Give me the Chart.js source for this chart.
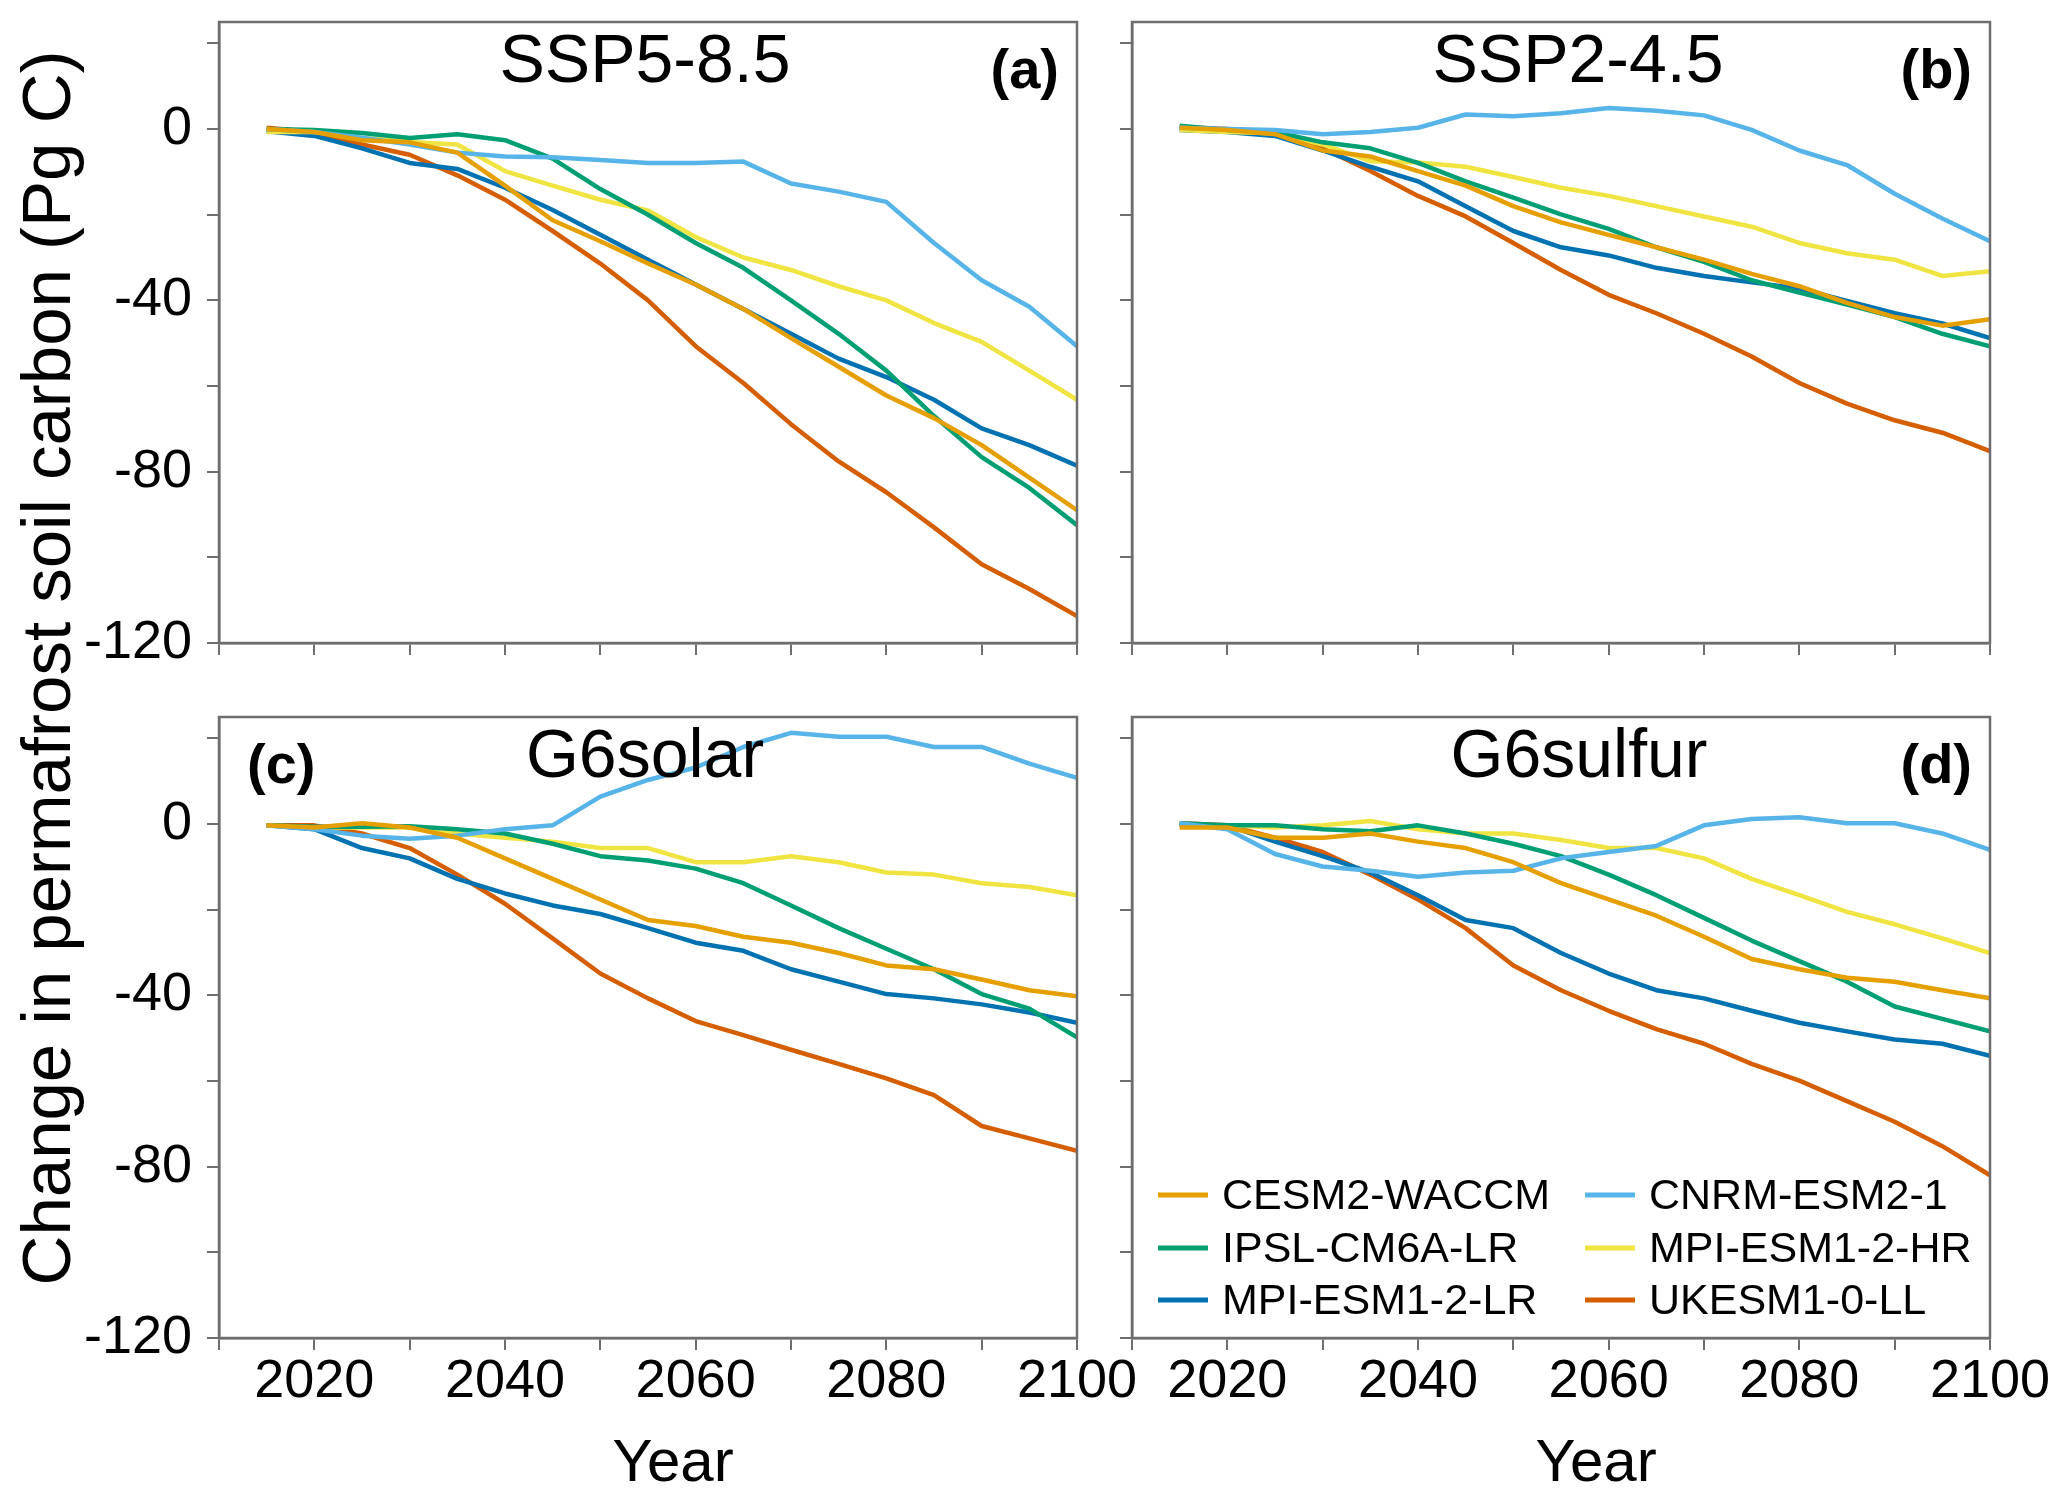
<!DOCTYPE html>
<html>
<head>
<meta charset="utf-8">
<title>Change in permafrost soil carbon</title>
<script src="https://cdn.jsdelivr.net/npm/chart.js@4/dist/chart.umd.min.js"></script>
<style>
  html, body { margin: 0; padding: 0; background: #fff; }
  body { width: 2067px; height: 1496px; position: relative; overflow: hidden; }
  canvas { position: absolute; }
  #ytitle {
    position: absolute; left: 46px; top: 668px;
    transform: translate(-50%, -50%) rotate(-90deg);
    font: 69px "Liberation Sans", Arial, sans-serif;
    white-space: nowrap; color: #000;
  }
</style>
</head>
<body>
<div id="ytitle">Change in permafrost soil carbon (Pg C)</div>
<canvas id="panelA" width="1150" height="720" style="left:0;top:0"></canvas>
<canvas id="panelB" width="967" height="720" style="left:1100px;top:0"></canvas>
<canvas id="panelC" width="1150" height="796" style="left:0;top:700px"></canvas>
<canvas id="panelD" width="967" height="796" style="left:1100px;top:700px"></canvas>
<script>
// Valeurs, tous les 5 ans (Pg C, écart à 2015)
const years = [2015, 2020, 2025, 2030, 2035, 2040, 2045, 2050, 2055, 2060,
  2065, 2070, 2075, 2080, 2085, 2090, 2095, 2100];

const models = ['CESM2-WACCM', 'CNRM-ESM2-1', 'IPSL-CM6A-LR',
  'MPI-ESM1-2-HR', 'MPI-ESM1-2-LR', 'UKESM1-0-LL'];
const modelColors = ['#E69F00', '#56B4E9', '#009E73', '#F0E442', '#0072B2', '#D55E00'];

const scenarios = ['SSP5-8.5', 'SSP2-4.5', 'G6solar', 'G6sulfur'];
const panelLetters = ['(a)', '(b)', '(c)', '(d)'];
const yLabelValues = [-120, -80, -40, 0];
const xLabelYears = [2020, 2040, 2060, 2080, 2100];
const xTitle = 'Year';

// une ligne par modèle, même ordre que `models`
const ssp585 = [
  [0, -0.7, -2.6, -3.1, -5.5, -13.2, -21.3, -26.2, -31.4, -36.3, -42, -48.8, -55.5, -62.2, -67.5, -73.8, -81.4, -89],
  [0, -0.7, -2, -3.6, -5.5, -6.4, -6.6, -7.2, -7.9, -7.9, -7.6, -12.7, -14.6, -17, -26.6, -35.3, -41.5, -50.7],
  [0, -0.2, -0.9, -2.1, -1.2, -2.6, -6.9, -14, -20, -26.6, -32.4, -40, -47.8, -56.4, -67, -76.6, -83.8, -92.5],
  [-0.7, -0.7, -2, -3, -3.6, -9.8, -13.2, -16.5, -19, -25.2, -30, -32.9, -36.7, -40, -45.3, -49.7, -56.4, -63.2],
  [-0.5, -1.6, -4.5, -7.9, -9.3, -13.7, -18.9, -24.7, -30.5, -36.3, -42, -47.8, -53.6, -57.9, -63.2, -69.9, -73.8, -78.6],
  [0.3, -0.7, -3.6, -6, -10.8, -16.5, -23.8, -31.4, -40, -50.7, -59.3, -68.9, -77.6, -84.8, -93, -101.6, -107.4, -113.7],
];

const ssp245 = [
  [0.3, -0.2, -1.2, -5, -6.4, -9.8, -13.2, -18, -21.8, -24.7, -27.6, -30.5, -33.8, -36.7, -40.6, -43.9, -45.9, -44.4],
  [0.3, 0, -0.2, -1.2, -0.7, 0.3, 3.4, 3, 3.7, 4.9, 4.3, 3.2, -0.2, -5, -8.4, -15.1, -20.9, -26.2],
  [0.8, -0.2, -0.7, -3.1, -4.5, -7.9, -12.2, -16, -19.9, -23.3, -27.6, -31, -35.3, -38.2, -41, -43.9, -47.8, -50.7],
  [-0.2, -0.7, -1, -3.6, -7.5, -7.8, -8.8, -11.2, -13.7, -15.6, -18, -20.4, -22.8, -26.6, -29, -30.5, -34.3, -33.2],
  [-0.2, -0.7, -1.6, -5, -8.8, -12.2, -18, -23.8, -27.6, -29.5, -32.4, -34.3, -35.8, -37.2, -40.1, -43, -45.4, -48.8],
  [0.5, 0, -0.7, -4.5, -9.8, -15.6, -20.4, -26.6, -32.9, -38.7, -43, -47.8, -53.1, -59.3, -64.1, -68, -70.9, -75.2],
];

const g6solar = [
  [-0.3, -0.8, 0.2, -0.8, -3.2, -8, -12.8, -17.6, -22.4, -23.8, -26.3, -27.7, -30.1, -33, -33.9, -36.3, -38.8, -40.2],
  [-0.3, -1.2, -2.7, -3.4, -2.7, -1.2, -0.3, 6.4, 10.3, 13.2, 18, 21.3, 20.4, 20.4, 18, 18, 14.1, 10.8],
  [-0.3, -0.6, -0.6, -0.5, -1.2, -2.2, -4.6, -7.5, -8.5, -10.4, -13.8, -19, -24.3, -29.1, -33.9, -39.7, -43.1, -49.8],
  [-0.3, -0.8, -0.8, -0.8, -2.2, -3.2, -4.1, -5.6, -5.6, -8.9, -8.9, -7.5, -8.9, -11.3, -11.8, -13.8, -14.7, -16.6],
  [-0.3, -1.2, -5.6, -8, -12.8, -16.2, -19, -21, -24.3, -27.7, -29.6, -33.9, -36.8, -39.7, -40.7, -42.1, -44, -46.4],
  [-0.3, -0.3, -2.2, -5.6, -11.8, -18.6, -26.7, -34.9, -40.7, -46, -49.3, -52.7, -56, -59.4, -63.3, -70.5, -73.4, -76.3],
];

const g6sulfur = [
  [-0.8, -0.8, -3.2, -3.2, -2.2, -4.1, -5.6, -8.9, -13.8, -17.6, -21.4, -26.3, -31.5, -33.9, -35.9, -36.8, -38.8, -40.7],
  [0.2, -1.2, -7, -9.9, -10.9, -12.3, -11.3, -10.9, -8, -6.5, -5.1, -0.3, 1.2, 1.6, 0.2, 0.2, -2.2, -6],
  [0.2, -0.3, -0.3, -1.2, -1.7, -0.3, -2.2, -4.6, -7.5, -11.8, -16.6, -21.9, -27.2, -32, -36.8, -42.6, -45.5, -48.4],
  [-0.5, -0.3, -0.8, -0.3, 0.7, -1.2, -2.2, -2.2, -3.7, -5.6, -5.6, -8, -12.8, -16.6, -20.5, -23.4, -26.7, -30.1],
  [-0.3, -0.3, -4.1, -7.5, -11.3, -16.6, -22.4, -24.3, -30.1, -34.9, -38.8, -40.7, -43.6, -46.4, -48.4, -50.3, -51.3, -54.1],
  [0.2, -0.3, -3.2, -6.5, -11.8, -17.6, -24.3, -33, -38.8, -43.6, -47.9, -51.3, -56, -59.9, -64.7, -69.5, -75.2, -82],
];

const panelValues = [ssp585, ssp245, g6solar, g6sulfur];

const fontFamily = '"Liberation Sans", Arial, sans-serif';
const frameColor = '#6e6e6e';

// emplacement de chaque canevas et de sa zone de tracé (px de la page)
const layouts = [
  { id: 'panelA', left: 0, top: 0, width: 1150, height: 720, area: [219, 22, 1077, 643],
    yLabels: true, xLabels: false, titleDx: -3, letterAt: 'right' },
  { id: 'panelB', left: 1100, top: 0, width: 967, height: 720, area: [1132, 22, 1990, 643],
    yLabels: false, xLabels: false, titleDx: 17, letterAt: 'right' },
  { id: 'panelC', left: 0, top: 700, width: 1150, height: 796, area: [219, 717, 1077, 1338],
    yLabels: true, xLabels: true, titleDx: -3, letterAt: 'left', yearDx: 25 },
  { id: 'panelD', left: 1100, top: 700, width: 967, height: 796, area: [1132, 717, 1990, 1338],
    yLabels: false, xLabels: true, titleDx: 18, letterAt: 'right', yearDx: 35, legend: true },
];

// cadre complet, titres, lettres, "Year" et légende
const panelDecor = {
  id: 'panelDecor',
  afterDraw(chart, args, opts) {
    const { ctx, chartArea: a } = chart;
    const midX = (a.left + a.right) / 2;
    ctx.save();
    ctx.strokeStyle = frameColor;
    ctx.lineWidth = 2.5;
    ctx.strokeRect(a.left, a.top, a.right - a.left, a.bottom - a.top);

    ctx.fillStyle = '#000';
    ctx.textBaseline = 'alphabetic';
    ctx.font = `68px ${fontFamily}`;
    ctx.textAlign = 'center';
    ctx.fillText(opts.title, midX + opts.titleDx, a.top + 60);

    ctx.font = `bold 56px ${fontFamily}`;
    if (opts.letterAt === 'left') {
      ctx.textAlign = 'left';
      ctx.fillText(opts.letter, a.left + 28, a.top + 66);
    } else {
      ctx.textAlign = 'right';
      ctx.fillText(opts.letter, a.right - 18, a.top + 66);
    }

    if (opts.year) {
      ctx.font = `60px ${fontFamily}`;
      ctx.textAlign = 'center';
      ctx.fillText(xTitle, midX + opts.yearDx, a.bottom + 143);
    }

    if (opts.legend) {
      const rows = [478, 531, 583];
      const cols = [26, 453];
      ctx.font = `43px ${fontFamily}`;
      ctx.textAlign = 'left';
      ctx.textBaseline = 'middle';
      ctx.lineWidth = 5;
      chart.data.datasets.forEach((ds, i) => {
        const x = a.left + cols[i % 2];
        const y = a.top + rows[Math.floor(i / 2)];
        ctx.strokeStyle = ds.borderColor;
        ctx.beginPath();
        ctx.moveTo(x, y);
        ctx.lineTo(x + 50, y);
        ctx.stroke();
        ctx.fillStyle = '#000';
        ctx.fillText(ds.label, x + 64, y + 2);
      });
    }
    ctx.restore();
  }
};

layouts.forEach((lay, p) => {
  const [areaLeft, areaTop, areaRight, areaBottom] = lay.area;
  const datasets = models.map((name, m) => ({
    label: name,
    data: years.map((yr, k) => ({ x: yr, y: panelValues[p][m][k] })),
    borderColor: modelColors[m],
    borderWidth: 4.5,
    pointRadius: 0,
    tension: 0,
    fill: false,
    borderJoinStyle: 'round',
  }));

  const tickGrid = {
    display: true,
    drawOnChartArea: false,
    drawTicks: true,
    tickLength: 12,
    color: frameColor,
    lineWidth: 2,
  };

  new Chart(document.getElementById(lay.id), {
    type: 'line',
    data: { datasets },
    options: {
      responsive: false,
      animation: false,
      devicePixelRatio: 1,
      events: [],
      layout: {
        padding: { left: 0, top: areaTop - lay.top, right: lay.left + lay.width - areaRight, bottom: 0 }
      },
      plugins: {
        legend: { display: false },
        tooltip: { enabled: false },
        panelDecor: {
          title: scenarios[p],
          letter: panelLetters[p],
          letterAt: lay.letterAt,
          titleDx: lay.titleDx,
          year: lay.xLabels,
          yearDx: lay.yearDx || 0,
          legend: !!lay.legend,
        },
      },
      scales: {
        x: {
          type: 'linear',
          min: 2010,
          max: 2100,
          grid: tickGrid,
          border: { display: true, color: frameColor, width: 2.5 },
          ticks: {
            display: lay.xLabels,
            stepSize: 10,
            autoSkip: false,
            maxRotation: 0,
            padding: 0,
            color: '#000',
            font: { family: fontFamily, size: 54 },
            callback: (v) => xLabelYears.includes(Math.round(v)) ? String(Math.round(v)) : '',
          },
          afterFit: (scale) => {
            scale.height = lay.top + lay.height - areaBottom;
            scale.paddingLeft = 0; scale.paddingRight = 0;
            scale.paddingTop = 0; scale.paddingBottom = 0;
          },
        },
        y: {
          min: -120,
          max: 25,
          grid: tickGrid,
          border: { display: true, color: frameColor, width: 2.5 },
          ticks: {
            display: lay.yLabels,
            stepSize: 20,
            includeBounds: false,
            padding: 15,
            color: '#000',
            font: { family: fontFamily, size: 54 },
            callback: (v) => yLabelValues.includes(Math.round(v)) ? String(Math.round(v)) : '',
          },
          afterFit: (scale) => {
            scale.width = areaLeft - lay.left;
            scale.paddingLeft = 0; scale.paddingRight = 0;
            scale.paddingTop = 0; scale.paddingBottom = 0;
          },
        },
      },
    },
    plugins: [panelDecor],
  });
});
</script>
</body>
</html>
